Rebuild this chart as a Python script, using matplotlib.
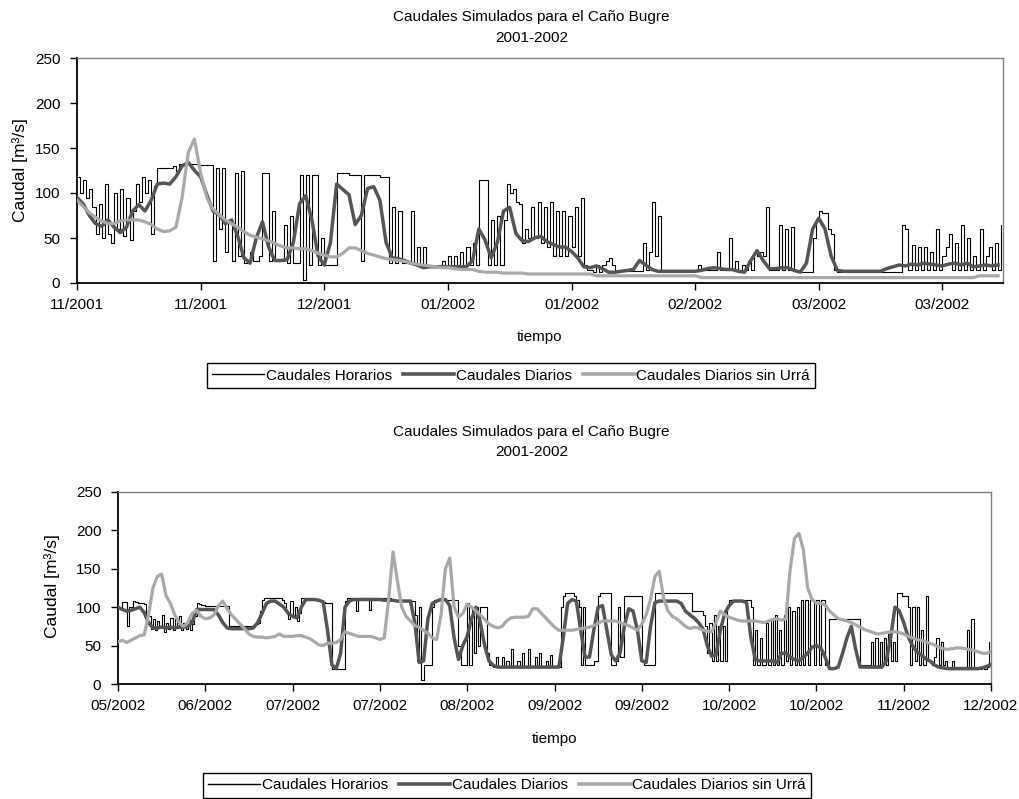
import numpy as np
import matplotlib
matplotlib.use('Agg')
import matplotlib.pyplot as plt
from matplotlib.lines import Line2D

plt.rcParams['font.family'] = ['Liberation Sans', 'DejaVu Sans']

# ---------------- text ----------------
title_line1 = "Caudales Simulados para el Caño Bugre"
title_line2 = "2001-2002"
ylabel_text = "Caudal [m³/s]"
xlabel_text = "tiempo"
series_names = ["Caudales Horarios", "Caudales Diarios", "Caudales Diarios sin Urrá"]

# ---------------- top panel (Nov 2001 - Mar 2002) ----------------
top_tick_labels = ["11/2001", "11/2001", "12/2001", "01/2002", "01/2002",
                   "02/2002", "03/2002", "03/2002"]
top_tick_step_days = 20
top_span_days = 149.8
hourly_step_days = 0.5   # hourly series sampled every half day

top_hourly = [
    118, 100, 115, 95, 105, 85, 55, 88, 50, 110,
    55, 45, 100, 60, 105, 52, 95, 48, 80, 110,
    90, 118, 100, 115, 55, 108, 128, 128, 128, 128,
    128, 130, 125, 132, 132, 133, 132, 132, 132, 131,
    131, 131, 131, 131, 25, 128, 60, 128, 35, 70,
    25, 122, 30, 125, 22, 25, 35, 25, 25, 30,
    122, 122, 25, 80, 25, 25, 25, 65, 22, 75,
    22, 22, 120, 3, 120, 20, 120, 120, 20, 50,
    20, 20, 20, 20, 122, 122, 122, 122, 120, 120,
    120, 120, 25, 120, 120, 120, 120, 120, 118, 118,
    118, 22, 85, 22, 80, 22, 22, 22, 80, 22,
    40, 20, 40, 18, 18, 18, 18, 20, 25, 18,
    30, 18, 30, 20, 35, 20, 40, 20, 45, 20,
    115, 115, 115, 20, 70, 20, 75, 20, 70, 110,
    100, 105, 90, 88, 45, 60, 50, 85, 50, 90,
    45, 85, 40, 90, 30, 80, 30, 80, 30, 75,
    40, 85, 30, 95, 20, 15, 15, 12, 20, 12,
    20, 25, 28, 20, 12, 13, 13, 13, 13, 13,
    13, 13, 13, 45, 15, 35, 90, 30, 75, 13,
    13, 13, 13, 13, 13, 13, 13, 13, 13, 13,
    13, 20, 15, 15, 15, 15, 15, 35, 15, 15,
    15, 50, 15, 25, 15, 20, 15, 25, 15, 35,
    30, 35, 30, 85, 15, 15, 15, 65, 15, 60,
    15, 62, 15, 15, 12, 12, 12, 12, 50, 70,
    80, 78, 78, 60, 55, 15, 12, 12, 12, 12,
    12, 12, 12, 12, 12, 12, 12, 12, 12, 12,
    12, 12, 12, 12, 12, 12, 12, 65, 60, 15,
    42, 15, 40, 15, 40, 15, 35, 15, 60, 15,
    30, 40, 55, 15, 45, 15, 65, 15, 50, 15,
    30, 15, 60, 15, 30, 40, 15, 45, 15, 65,
]

top_daily = [
    95, 88, 75, 66, 63, 70, 62, 56, 62, 80,
    87, 80, 92, 110, 111, 110, 118, 130, 134, 125,
    118, 98, 80, 76, 66, 70, 52, 28, 22, 50,
    68, 40, 25, 25, 26, 45, 88, 97, 70, 30,
    20, 45, 110, 104, 98, 65, 75, 105, 107, 92,
    45, 28, 27, 25, 22, 20, 17, 18, 18, 18,
    18, 18, 18, 18, 25, 60, 48, 28, 45, 80,
    84, 55, 47, 46, 50, 52, 46, 43, 40, 40,
    35, 28, 18, 17, 19, 16, 12, 12, 13, 14,
    15, 25, 20, 15, 13, 13, 13, 13, 13, 13,
    13, 14, 16, 17, 16, 15, 15, 13, 12, 25,
    36, 25, 16, 16, 17, 17, 14, 12, 22, 60,
    72, 60, 30, 14, 13, 13, 13, 13, 13, 13,
    13, 16, 18, 20, 19, 21, 20, 22, 21, 20,
    19, 21, 22, 20, 22, 18, 19, 20, 19, 20,
]

top_sin_urra = [
    92, 85, 78, 73, 69, 66, 66, 69, 70, 70,
    70, 68, 65, 60, 57, 58, 62, 95, 145, 160,
    122, 95, 82, 76, 70, 66, 62, 57, 53, 51,
    49, 47, 44, 41, 39, 39, 38, 38, 36, 33,
    31, 29, 29, 33, 39, 39, 36, 33, 31, 29,
    27, 26, 25, 24, 22, 21, 20, 19, 18, 17,
    17, 16, 15, 15, 15, 13, 12, 12, 12, 11,
    11, 11, 11, 10, 10, 10, 10, 10, 10, 10,
    10, 10, 10, 10, 8, 8, 8, 8, 8, 8,
    8, 8, 8, 8, 8, 8, 8, 8, 8, 8,
    8, 6, 6, 6, 6, 6, 6, 6, 6, 6,
    6, 6, 6, 6, 6, 6, 6, 6, 6, 6,
    6, 6, 6, 6, 6, 6, 6, 6, 6, 6,
    6, 6, 6, 6, 6, 6, 6, 6, 6, 6,
    6, 6, 6, 6, 6, 6, 8, 8, 8, 8,
]

# ---------------- bottom panel (May 2002 - Dec 2002) ----------------
bot_tick_labels = ["05/2002", "06/2002", "07/2002", "07/2002", "08/2002", "09/2002",
                   "09/2002", "10/2002", "10/2002", "11/2002", "12/2002"]
bot_tick_step_days = 20
bot_span_days = 200

bot_hourly = [
    100, 98, 107, 107, 75, 100, 100, 108, 107, 105,
    105, 105, 104, 90, 88, 72, 85, 70, 82, 75,
    90, 68, 80, 72, 86, 70, 84, 74, 88, 70,
    80, 72, 85, 70, 78, 88, 105, 104, 103, 103,
    102, 102, 102, 102, 102, 102, 102, 102, 102, 102,
    102, 75, 76, 76, 76, 76, 76, 76, 76, 76,
    76, 76, 77, 78, 80, 95, 110, 112, 112, 112,
    112, 112, 112, 112, 112, 110, 105, 95, 85, 108,
    88, 100, 82, 92, 112, 112, 112, 111, 110, 110,
    110, 110, 110, 107, 107, 106, 105, 105, 20, 20,
    20, 20, 20, 20, 108, 112, 112, 112, 112, 95,
    112, 112, 112, 112, 112, 96, 112, 112, 112, 112,
    112, 112, 112, 112, 112, 110, 110, 110, 110, 110,
    109, 109, 108, 108, 108, 108, 90, 30, 100, 5,
    25, 25, 25, 25, 100, 110, 110, 110, 110, 110,
    110, 110, 110, 110, 110, 110, 50, 25, 25, 25,
    105, 25, 100, 40, 100, 50, 100, 100, 100, 40,
    25, 25, 22, 35, 22, 22, 35, 22, 30, 22,
    45, 22, 22, 30, 22, 40, 22, 22, 45, 22,
    22, 35, 22, 40, 22, 22, 30, 22, 38, 22,
    22, 25, 22, 100, 115, 118, 118, 118, 118, 115,
    110, 100, 25, 100, 25, 25, 25, 25, 30, 30,
    115, 118, 118, 118, 118, 118, 25, 25, 30, 100,
    35, 35, 115, 115, 115, 115, 115, 115, 115, 115,
    30, 25, 25, 25, 25, 25, 118, 118, 118, 118,
    118, 118, 118, 118, 118, 118, 118, 118, 118, 118,
    118, 118, 118, 95, 95, 95, 95, 95, 90, 75,
    40, 80, 30, 90, 30, 75, 30, 75, 30, 100,
    110, 110, 110, 110, 110, 110, 110, 110, 110, 110,
    100, 25, 70, 25, 60, 25, 25, 80, 25, 85,
    25, 90, 25, 70, 25, 90, 30, 100, 25, 95,
    25, 100, 25, 110, 25, 110, 25, 110, 110, 25,
    110, 25, 110, 110, 25, 25, 85, 85, 85, 85,
    85, 85, 85, 85, 85, 85, 85, 85, 85, 85,
    25, 25, 25, 25, 25, 55, 25, 60, 25, 55,
    25, 60, 25, 65, 30, 55, 30, 118, 118, 115,
    115, 115, 100, 25, 100, 30, 100, 25, 70, 25,
    115, 30, 30, 25, 35, 60, 25, 55, 25, 30,
    22, 22, 30, 22, 22, 22, 22, 22, 22, 70,
    22, 85, 22, 22, 22, 20, 22, 20, 22, 55,
]

bot_daily = [
    100, 97, 95, 96, 98, 100, 93, 80, 73, 73,
    74, 73, 74, 73, 74, 74, 75, 80, 97, 97,
    97, 97, 97, 90, 80, 73, 72, 72, 72, 72,
    72, 73, 80, 92, 105, 108, 108, 104, 100, 92,
    88, 86, 100, 110, 110, 110, 109, 107, 70, 25,
    20, 40, 100, 108, 110, 110, 110, 110, 110, 110,
    110, 109, 109, 109, 108, 108, 108, 108, 80, 28,
    30, 85, 105, 108, 110, 110, 102, 60, 32, 50,
    62, 85, 100, 80, 50, 30, 24, 22, 22, 22,
    22, 22, 22, 22, 22, 22, 22, 22, 22, 22,
    22, 22, 60, 105, 110, 108, 70, 35, 35, 70,
    100, 102, 70, 38, 30, 40, 75, 98, 95, 70,
    30, 28, 75, 106, 108, 108, 108, 108, 108, 105,
    95, 90, 86, 80, 72, 50, 36, 38, 70, 92,
    102, 108, 108, 108, 106, 60, 32, 30, 30, 30,
    30, 28, 40, 40, 35, 32, 30, 35, 40, 48,
    50, 47, 35, 20, 20, 22, 40, 60, 75, 45,
    22, 22, 22, 22, 22, 22, 30, 60, 100, 95,
    80, 62, 50, 42, 38, 33, 30, 25, 22, 21,
    20, 20, 20, 20, 20, 20, 20, 20, 21, 23,
    25,
]

bot_sin_urra = [
    55, 57, 54, 57, 60, 63, 64, 90, 125, 140,
    143, 115, 105, 90, 80, 75, 80, 92, 96, 88,
    85, 86, 90, 102, 108, 98, 90, 84, 78, 72,
    65, 62, 61, 61, 60, 61, 62, 65, 62, 62,
    62, 63, 63, 61, 59, 55, 51, 50, 53, 53,
    54, 58, 68, 66, 64, 62, 62, 62, 62, 60,
    58, 60, 110, 172, 135, 100, 88, 82, 76, 74,
    70, 66, 60, 58, 90, 150, 164, 100, 87, 92,
    104, 100, 95, 90, 84, 78, 75, 73, 75, 82,
    86, 87, 87, 87, 88, 98, 98, 92, 86, 80,
    74, 70, 70, 70, 70, 71, 72, 73, 74, 76,
    79, 82, 82, 82, 82, 80, 78, 76, 73, 70,
    78, 90, 110, 140, 147, 112, 95, 88, 85, 80,
    75, 72, 74, 73, 70, 69, 68, 80, 95, 90,
    87, 85, 83, 82, 82, 82, 82, 81, 80, 82,
    84, 85, 83, 85, 150, 190, 196, 175, 125, 110,
    105, 105, 103, 95, 90, 85, 84, 82, 80, 77,
    74, 71, 69, 67, 65, 66, 67, 68, 68, 67,
    65, 62, 60, 58, 57, 55, 53, 51, 48, 46,
    45, 46, 47, 47, 46, 45, 44, 42, 40, 40,
    42,
]

# ---------------- styling ----------------
W, H = 1019, 799
c_hourly = "#000000"
c_daily = "#555555"
c_sin = "#a9a9a9"
fs = 11

fig = plt.figure(figsize=(W / 100, H / 100), dpi=100)


def panel(rect, hourly, daily, sin, span, step, labels, ylab_xy, xlab_xy,
          title_y, leg_anchor, leg_loc):
    ax = fig.add_axes(rect)
    xh = np.arange(len(hourly)) * hourly_step_days
    xd = np.arange(len(daily))
    xs = np.arange(len(sin))
    ax.plot(xh, hourly, color=c_hourly, lw=0.8, drawstyle='steps-post', zorder=2)
    ax.plot(xd, daily, color=c_daily, lw=2.5, zorder=3, solid_joinstyle='round')
    ax.plot(xs, sin, color=c_sin, lw=2.3, zorder=4, solid_joinstyle='round')
    ax.set_xlim(0, span)
    ax.set_ylim(0, 250)
    ax.set_yticks(np.arange(0, 251, 50))
    ax.set_xticks(np.arange(len(labels)) * step)
    ax.set_xticklabels(labels)
    ax.tick_params(axis='x', direction='out', length=5, width=1, pad=6,
                   labelsize=fs, colors='black')
    ax.tick_params(axis='y', direction='out', length=5, width=1, pad=7,
                   labelsize=fs, colors='black')
    for s in ('left', 'bottom'):
        ax.spines[s].set_color('black')
        ax.spines[s].set_linewidth(1.3)
    for s in ('top', 'right'):
        ax.spines[s].set_color('#808080')
        ax.spines[s].set_linewidth(1.0)
    fig.text(ylab_xy[0] / W, 1 - ylab_xy[1] / H, ylabel_text, rotation=90,
             ha='center', va='center', fontsize=12.5)
    fig.text(xlab_xy[0] / W, 1 - xlab_xy[1] / H, xlabel_text,
             ha='center', va='center', fontsize=fs)
    fig.text(531 / W, 1 - title_y[0] / H, title_line1, ha='center', va='center', fontsize=fs)
    fig.text(532 / W, 1 - title_y[1] / H, title_line2, ha='center', va='center', fontsize=fs)
    handles = [Line2D([], [], color=c_hourly, lw=1.0),
               Line2D([], [], color=c_daily, lw=2.6),
               Line2D([], [], color=c_sin, lw=2.6)]
    leg = fig.legend(handles, series_names, loc=leg_loc,
                     bbox_to_anchor=(leg_anchor[0] / W, 1 - leg_anchor[1] / H),
                     ncol=3, fontsize=fs, frameon=True, fancybox=False,
                     edgecolor='black', framealpha=1, handlelength=3.4,
                     handletextpad=0.1, columnspacing=0.7, borderpad=0.35,
                     borderaxespad=0)
    leg.get_frame().set_linewidth(1.0)
    return ax


panel([77 / W, 1 - 283 / H, 926 / W, 225 / H], top_hourly, top_daily, top_sin_urra,
      top_span_days, top_tick_step_days, top_tick_labels,
      (20, 170), (540, 337), (17, 38), (511, 375.5), 'center')

panel([118 / W, 1 - 684 / H, 873 / W, 192 / H], bot_hourly, bot_daily, bot_sin_urra,
      bot_span_days, bot_tick_step_days, bot_tick_labels,
      (52, 586), (555, 739), (432, 452), (507, 773), 'upper center')

fig.savefig("out.png", dpi=100)
